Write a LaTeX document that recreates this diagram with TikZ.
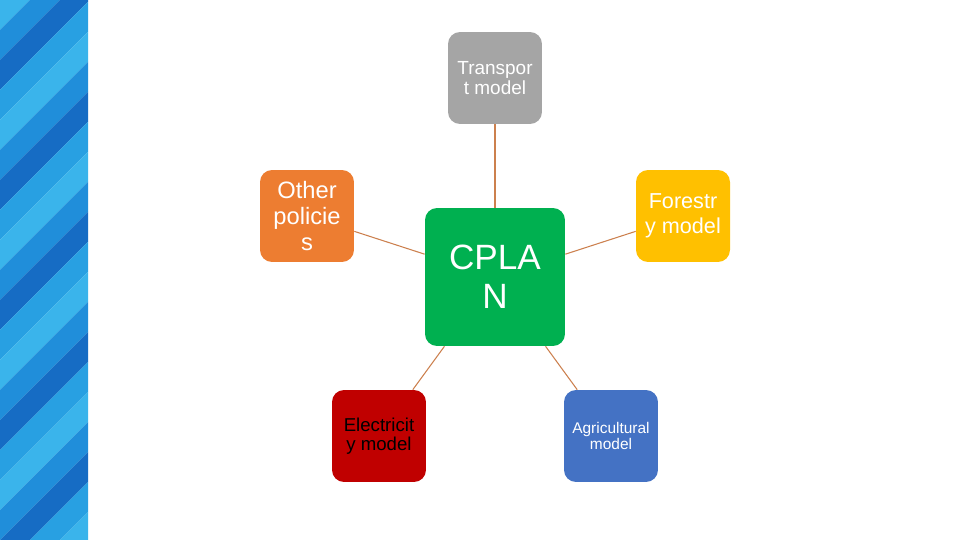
\documentclass[tikz,border=0pt]{standalone}
\usepackage{fontspec}
\setmainfont{Liberation Sans}
\usetikzlibrary{positioning}
\definecolor{mGray}{RGB}{165,165,165}
\definecolor{mOrange}{RGB}{237,125,49}
\definecolor{mYellow}{RGB}{255,192,0}
\definecolor{mGreen}{RGB}{0,176,80}
\definecolor{mRed}{RGB}{192,0,0}
\definecolor{mBlue}{RGB}{68,114,196}
\definecolor{linkcol}{RGB}{204,128,78}
\definecolor{stripA}{RGB}{58,180,235}
\definecolor{stripB}{RGB}{32,142,218}
\definecolor{stripC}{RGB}{22,108,196}
\definecolor{stripD}{RGB}{40,160,226}
\tikzset{
  modbox/.style={rounded corners=0.24cm, inner sep=0pt, align=center, text=white,
    minimum width=1.88cm, minimum height=1.84cm},
  linkln/.style={draw=linkcol, line width=0.6pt},
}
\newcommand{\fsz}[2]{\fontsize{#1}{#2}\selectfont}

\begin{document}
\begin{tikzpicture}[x=0.02cm, y=-0.02cm]
    \useasboundingbox[fill=white] (0,0) rectangle (960,540);
    % blue strip on the left
    \begin{scope}
      \clip (0,0) rectangle (88,540);
      \foreach \k in {0,...,21}{
        \pgfmathsetmacro\col{{"stripA","stripB","stripC","stripD"}[mod(\k,4)]}
        \fill[\col] (0,\k*30) -- (0,\k*30+30) -- (88,\k*30-58) -- (88,\k*30-88) -- cycle;
      }
    \end{scope}
    % centre and the five models
    \node[modbox, fill=mGreen, minimum width=2.8cm, minimum height=2.76cm,
      font=\fsz{20}{22}] (cplan) at (495,277) {CPLA\\N};
    \node[modbox, fill=mGray, font=\fsz{10.8}{11.3}] (transport) at (495,78) {Transpor\\t model};
    \node[modbox, fill=mOrange, font=\fsz{13.5}{14.7}] (other) at (307,216) {Other\\policie\\s};
    \node[modbox, fill=mYellow, font=\fsz{12.3}{14.2}] (forestry) at (683,216) {Forestr\\y model};
    \node[modbox, fill=mRed, text=black, font=\fsz{10.6}{10.8}] (electricity) at (379,436) {Electricit\\y model};
    \node[modbox, fill=mBlue, font=\fsz{8.8}{9.6}] (agri) at (611,436) {Agricultural\\model};
    % links
    \draw[linkln, line width=1.1pt] (transport) -- (cplan);
    \draw[linkln] (other) -- (cplan);
    \draw[linkln] (forestry) -- (cplan);
    \draw[linkln] (electricity) -- (cplan);
    \draw[linkln] (agri) -- (cplan);
\end{tikzpicture}
\end{document}
